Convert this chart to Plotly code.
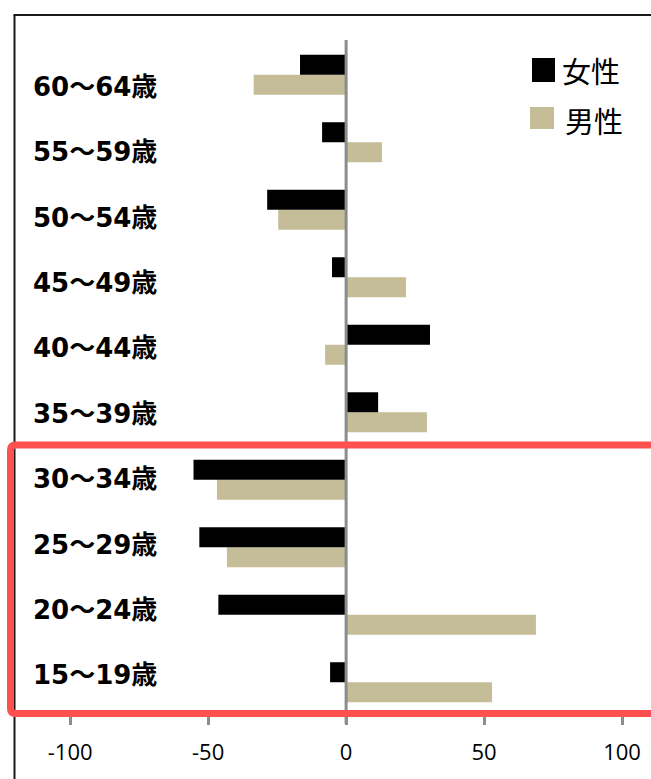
import plotly.graph_objects as go

# ---- data (bottom to top) ----
categories = ["15～19歳", "20～24歳", "25～29歳", "30～34歳", "35～39歳",
              "40～44歳", "45～49歳", "50～54歳", "55～59歳", "60～64歳"]
female = [-5.8, -46.3, -53.2, -55.3, 11.6, 30.4, -5.1, -28.6, -8.7, -16.7]
male = [52.9, 68.8, -43.2, -46.8, 29.3, -7.6, 21.7, -24.6, 13.0, -33.5]
x_ticks = [-100, -50, 0, 50, 100]
x_tick_labels = ["-100", "-50", "0", "50", "100"]
legend_names = ["女性", "男性"]

W, H = 651, 779
ML, MR, MT, MB = 15, 0, 41, 63
PW, PH = W - ML - MR, H - MT - MB


def px(xp):
    return (xp - ML) / PW


def py(yp):
    return (H - MB - yp) / PH


BLACK = "#000000"
TAN = "#C4BD97"
RED = "#FF5050"
GRAY = "#8C8C8C"

fig = go.Figure()
fig.add_trace(go.Bar(y=categories, x=male, orientation="h", name=legend_names[1],
                     marker=dict(color=TAN, line=dict(width=0)), showlegend=False))
fig.add_trace(go.Bar(y=categories, x=female, orientation="h", name=legend_names[0],
                     marker=dict(color=BLACK, line=dict(width=0)), showlegend=False))
# helper trace so the label axis exists
fig.add_trace(go.Scatter(x=[None], y=[None], yaxis="y2", showlegend=False,
                         hoverinfo="skip"))

annotations = []
for j, c in enumerate(categories):
    annotations.append(dict(text=c, xref="paper", x=px(31), xanchor="left",
                            yref="y2", y=j, yanchor="middle", showarrow=False,
                            font=dict(family="DejaVu Sans, Noto Sans CJK JP", size=26,
                                      color="#000000", weight="bold")))
# legend text
annotations.append(dict(text=legend_names[0], xref="paper", x=px(560), xanchor="left",
                        yref="paper", y=py(70), yanchor="middle", showarrow=False,
                        font=dict(family="Noto Sans CJK JP", size=29, color="#000000")))
annotations.append(dict(text=legend_names[1], xref="paper", x=px(563), xanchor="left",
                        yref="paper", y=py(120), yanchor="middle", showarrow=False,
                        font=dict(family="Noto Sans CJK JP", size=29, color="#000000")))

shapes = []
# zero line drawn above the bars
shapes.append(dict(type="line", xref="x", yref="paper", x0=0, x1=0,
                   y0=py(724), y1=py(40), line=dict(color=GRAY, width=3), layer="above"))
# outer chart frame (left and top)
shapes.append(dict(type="line", xref="paper", yref="paper", x0=px(14.5), x1=px(14.5),
                   y0=py(15), y1=py(800), line=dict(color="#1a1a1a", width=2), layer="above"))
shapes.append(dict(type="line", xref="paper", yref="paper", x0=px(13.5), x1=px(670),
                   y0=py(15), y1=py(15), line=dict(color="#1a1a1a", width=2), layer="above"))
# legend swatches
shapes.append(dict(type="rect", xref="paper", yref="paper", x0=px(532), x1=px(555),
                   y0=py(82), y1=py(58), fillcolor=BLACK, line=dict(width=0), layer="above"))
shapes.append(dict(type="rect", xref="paper", yref="paper", x0=px(530), x1=px(554),
                   y0=py(129), y1=py(107), fillcolor=TAN, line=dict(width=0), layer="above"))
# red highlight box with rounded corners
l, r, t, b, rad = 10.5, 670, 445, 713.5, 5
path = (f"M {px(l)},{py(t + rad)} Q {px(l)},{py(t)} {px(l + rad)},{py(t)} "
        f"L {px(r)},{py(t)} M {px(l)},{py(t + rad)} L {px(l)},{py(b - rad)} "
        f"Q {px(l)},{py(b)} {px(l + rad)},{py(b)} L {px(r)},{py(b)}")
shapes.append(dict(type="path", xref="paper", yref="paper", path=path,
                   line=dict(color=RED, width=7), layer="above"))

fig.update_layout(
    width=W, height=H,
    margin=dict(l=ML, r=MR, t=MT, b=MB, pad=0),
    paper_bgcolor="white", plot_bgcolor="white",
    barmode="group", bargap=0.407, bargroupgap=0,
    xaxis=dict(range=[-120, 110.5], tickvals=x_ticks, ticktext=x_tick_labels,
               ticks="outside", ticklen=8, ticklabelstandoff=9,
               tickwidth=3, tickcolor=GRAY, showgrid=False, showline=False,
               zeroline=False, fixedrange=True,
               tickfont=dict(family="Open Sans", size=22, color="#000000")),
    yaxis=dict(type="category", range=[-0.5, 9.5], showticklabels=False, ticks="",
               showgrid=False, showline=False, zeroline=False),
    yaxis2=dict(overlaying="y", range=[-0.623, 9.703], visible=False,
                showgrid=False, zeroline=False),
    annotations=annotations,
    shapes=shapes,
)

fig.write_html("out.html")
